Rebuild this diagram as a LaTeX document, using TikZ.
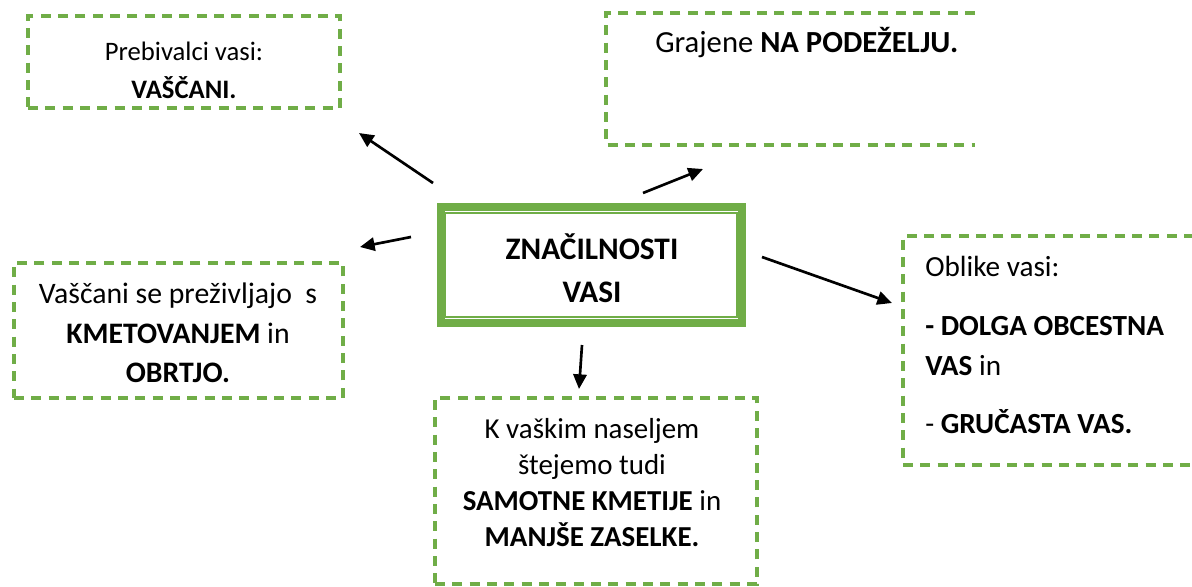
\documentclass[tikz,border=0pt]{standalone}
\usepackage{fontspec}
\setmainfont{Carlito}
\usetikzlibrary{arrows.meta}
\definecolor{zelena}{HTML}{70AD47}
\tikzset{okvir/.style={draw=zelena,line width=2.4pt,dash pattern=on 7.5pt off 5.5pt,inner sep=0pt}}
\tikzset{besedilo/.style={align=center,inner sep=0pt,font=\fontsize{22}{29.5}\selectfont}}
\tikzset{puscica/.style={line width=2pt,-{Triangle[length=11pt,width=10pt]}}}

\begin{document}
\begin{tikzpicture}[x=0.75pt,y=-0.75pt]
    \useasboundingbox (0,0) rectangle (1192,586);
    % osrednji okvir
    \node[draw=zelena,line width=6pt,minimum width=225.75pt,minimum height=87pt,inner sep=0pt] (glavno) at (591.5,265) {};
    \draw[zelena,line width=1.5pt] ([shift={(8,10)}]glavno.north west) rectangle ([shift={(-9,-10)}]glavno.south east);
    \node[besedilo,font=\bfseries\fontsize{23.5}{32}\selectfont] (naslov) at (592,268) {ZNAČILNOSTI\\VASI};
    % prebivalci
    \node[okvir,minimum width=234pt,minimum height=69pt] (vascani) at (184,62) {};
    \node[besedilo,font=\fontsize{20}{28.5}\selectfont] (t-vascani) at (184,70) {Prebivalci vasi:\\\textbf{VAŠČANI.}};
    % podezelje
    \draw[okvir] (975,13) -- (606,13) -- (606,145) -- (975,145);
    \node[besedilo,anchor=base west,font=\fontsize{23}{29.5}\selectfont] (t-podezelje) at (655,52) {Grajene \textbf{NA PODEŽELJU.}};
    % kmetovanje
    \node[okvir,minimum width=246.75pt,minimum height=101.25pt] (kmetovanje) at (178.5,330.5) {};
    \node[besedilo,font=\fontsize{22.3}{29.5}\selectfont] (t-kmetovanje) at (178,333) {Vaščani se preživljajo\ \ s\\\textbf{KMETOVANJEM} in\\\textbf{OBRTJO.}};
    % naselja
    \node[okvir,minimum width=241.5pt,minimum height=139.5pt] (naselja) at (596,491) {};
    \node[besedilo,font=\fontsize{21.7}{27}\selectfont] (t-naselja) at (592,483) {K vaškim naseljem\\štejemo tudi\\\textbf{SAMOTNE KMETIJE} in\\\textbf{MANJŠE ZASELKE.}};
    % oblike vasi
    \node[okvir,minimum width=237.75pt,minimum height=171.75pt] (oblike) at (1061.5,350.5) {};
    \node[besedilo,align=left,anchor=north west,font=\fontsize{21.9}{30}\selectfont] (t-oblike) at (925,256) {Oblike vasi:\\[14pt]\textbf{- DOLGA OBCESTNA}\\\textbf{VAS} in\\[14pt]- \textbf{GRUČASTA VAS.}};
    % puscice
    \coordinate (s1) at (433,183); \coordinate (k1) at (359,133);
    \coordinate (s2) at (643,193); \coordinate (k2) at (703,169);
    \coordinate (s3) at (411,237); \coordinate (k3) at (360,247);
    \coordinate (s4) at (762,257); \coordinate (k4) at (892,303);
    \coordinate (s5) at (582,345); \coordinate (k5) at (579,389);
    \draw[puscica] (s1) -- (k1);
    \draw[puscica] (s2) -- (k2);
    \draw[puscica] (s3) -- (k3);
    \draw[puscica] (s4) -- (k4);
    \draw[puscica] (s5) -- (k5);
\end{tikzpicture}
\end{document}
